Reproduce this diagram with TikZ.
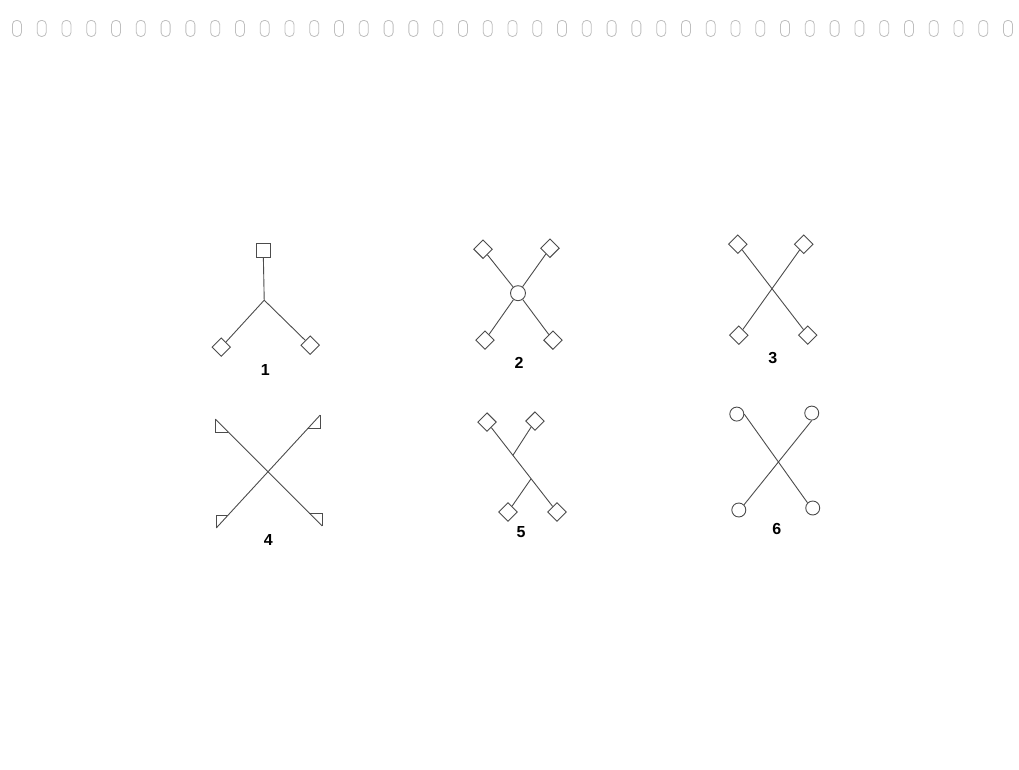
\documentclass[tikz,border=0pt]{standalone}
\usepackage{fontspec}
\setmainfont{Liberation Sans}
\usetikzlibrary{positioning,calc}

\begin{document}
\begin{tikzpicture}[x=1pt,y=-1pt,line width=0.9pt,
  every path/.style={draw=black!70},
  dia/.style={draw=black!70,rectangle,rotate=45,minimum size=13pt,inner sep=0pt},
  sq/.style={draw=black!70,rectangle,minimum size=14pt,inner sep=0pt},
  ring/.style={draw=black!70,circle,minimum size=14pt,inner sep=0pt},
  num/.style={font=\bfseries\fontsize{16}{16}\selectfont,inner sep=0pt},
  hole/.style={draw=black!25,line width=0.8pt,rounded corners=4pt}]
  \useasboundingbox (0,0) rectangle (1019,769);
  \fill[white,draw=none] (0,0) rectangle (1019,769);
  % binding holes
  \foreach \i in {0,...,40} \draw[hole] ({12+24.8*\i},20) rectangle ++(9,16);
  % 1
  \node[sq] (t1) at (263,250) {};
  \coordinate (j1) at (264,300);
  \node[dia] (l1) at (221,347) {}; \node[dia] (r1) at (310,345) {};
  \draw (t1) -- (j1) -- (l1); \draw (j1) -- (r1);
  \node[num] (n1) at (265,370) {1};
  % 2
  \node[ring,minimum size=15pt] (c2) at (518,293) {};
  \node[dia] (a2) at (483,249) {}; \node[dia] (b2) at (550,248) {};
  \node[dia] (d2) at (485,340) {}; \node[dia] (e2) at (553,340) {};
  \foreach \k in {a2,b2,d2,e2} \draw (c2) -- (\k);
  \node[num] (n2) at (519,363) {2};
  % 3
  \node[dia] (a3) at (738,244) {}; \node[dia] (b3) at (804,244) {};
  \node[dia] (d3) at (739,335) {}; \node[dia] (e3) at (808,335) {};
  \draw (a3) -- (e3); \draw (b3) -- (d3);
  \node[num] (n3) at (773,358) {3};
  % 4
  \coordinate (a4) at (215,419); \coordinate (b4) at (322,526);
  \coordinate (c4) at (320,415); \coordinate (d4) at (216,528);
  \draw (a4) -- (b4); \draw (c4) -- (d4);
  \draw (a4) -- ++(0,13) -- ++(13,0);
  \draw (c4) -- ++(0,13) -- ++(-12,0);
  \draw (d4) -- ++(0,-13) -- ++(12,0);
  \draw (b4) -- ++(0,-13) -- ++(-13,0);
  \node[num] (n4) at (268,540) {4};
  % 5
  \node[dia] (a5) at (487,422) {}; \node[dia] (b5) at (535,421) {};
  \node[dia] (d5) at (508,512) {}; \node[dia] (e5) at (557,512) {};
  \coordinate (u5) at ($(a5)!0.37!(e5)$);
  \coordinate (w5) at ($(a5)!0.63!(e5)$);
  \draw (a5) -- (e5); \draw (u5) -- (b5); \draw (w5) -- (d5);
  \node[num] (n5) at (521,532) {5};
  % 6
  \node[ring] (a6) at (737,414) {}; \node[ring] (b6) at (812,413) {};
  \node[ring] (d6) at (739,510) {}; \node[ring] (e6) at (813,508) {};
  \draw (a6.east) -- (e6.north west); \draw (b6.south) -- (d6.north east);
  \node[num] (n6) at (777,529) {6};
\end{tikzpicture}
\end{document}
